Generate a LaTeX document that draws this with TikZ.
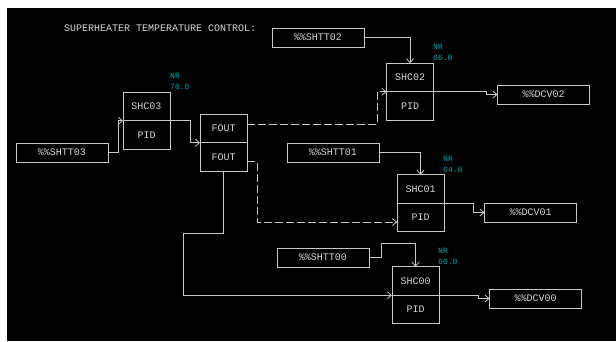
\documentclass[tikz,border=0pt]{standalone}
\usepackage{fontspec}
\setmonofont{Liberation Mono}
\usetikzlibrary{arrows.meta, positioning}
\definecolor{scrbg}{RGB}{0,0,0}
\definecolor{linegray}{RGB}{200,200,200}
\definecolor{txtgray}{RGB}{215,215,215}
\definecolor{nrcyan}{RGB}{0,170,170}

\begin{document}
\begin{tikzpicture}[
    x=1pt, y=-1pt,
    node distance=0pt,
    tag/.style={
        rectangle,
        draw=linegray,
        line width=0.8pt,
        text=txtgray,
        inner sep=0pt,
        outer sep=0pt,
        minimum width=92pt,
        minimum height=19pt,
        font=\ttfamily\fontsize{10}{12}\selectfont
    },
    blk/.style={tag, minimum width=47pt, minimum height=28.5pt},
    nr/.style={text=nrcyan, align=left, anchor=north west, inner sep=0pt,
        font=\ttfamily\fontsize{8}{11.5}\selectfont},
    arrow/.style={-{Straight Barb[length=4pt, width=7pt]}, draw=linegray, line width=0.8pt},
    dashline/.style={arrow, dash pattern=on 8pt off 3pt}
]

\useasboundingbox (0,0) rectangle (616,341);
\fill[white] (0,0) rectangle (616,341);
\fill[scrbg] (7,8) rectangle (616,341);

\node[anchor=west, inner sep=0pt, text=txtgray, font=\ttfamily\fontsize{10}{12}\selectfont]
    (title) at (64,28) {SUPERHEATER TEMPERATURE CONTROL:};

\node[tag] (shtt03) at (62,152.5) {\%\%SHTT03};
\node[tag] (shtt02) at (318,37.5) {\%\%SHTT02};
\node[tag] (shtt01) at (333,152.5) {\%\%SHTT01};
\node[tag] (shtt00) at (323,257.5) {\%\%SHTT00};

\node[blk] (shc03) at (146.5,106.5) {SHC03};
\node[blk, below=of shc03] (pid03) {PID};
\node[blk] (fout1) at (223.5,128.5) {FOUT};
\node[blk, below=of fout1] (fout2) {FOUT};
\node[blk] (shc02) at (410,77.5) {SHC02};
\node[blk, below=of shc02] (pid02) {PID};
\node[blk] (shc01) at (420.5,189) {SHC01};
\node[blk, below=of shc01] (pid01) {PID};
\node[blk] (shc00) at (415.5,281) {SHC00};
\node[blk, below=of shc00] (pid00) {PID};

\node[nr] (nr03) at (170,73) {NR\\70.0};
\node[nr] (nr02) at (433,44) {NR\\66.0};
\node[nr] (nr01) at (443,156) {NR\\64.0};
\node[nr] (nr00) at (438,248) {NR\\60.0};

\node[tag] (dcv02) at (543.5,94.5) {\%\%DCV02};
\node[tag] (dcv01) at (530.5,212.5) {\%\%DCV01};
\node[tag] (dcv00) at (535.5,298.5) {\%\%DCV00};

\draw[arrow] (shtt03.east) -- ++(10,0) |- (shc03.south west);
\draw[arrow] (shc03.south east) -- ++(20,0) |- (fout1.south west);
\draw[dashline] ([yshift=4.5pt]fout1.east) -- ++(130,0) |- (shc02.south west);
\draw[dashline] ([yshift=-4.5pt]fout2.east) -- ++(10,0) |- ([yshift=-4.5pt]pid01.west);
\draw[arrow] (fout2.south) -- ++(0,62) -- ++(-40,0) |- (shc00.south west);

\draw[arrow] (shtt02.east) -| (shc02.north);
\draw[arrow] (shtt01.east) -| (shc01.north);
\draw[arrow] (shtt00.east) -- ++(12,0) |- ([yshift=23pt]shc00.north) -- (shc00.north);

\draw[arrow] (shc02.south east) -- ++(53,0) |- (dcv02.west);
\draw[arrow] (shc01.south east) -- ++(29,0) |- (dcv01.west);
\draw[arrow] (shc00.south east) -- ++(39,0) |- (dcv00.west);

\end{tikzpicture}
\end{document}
